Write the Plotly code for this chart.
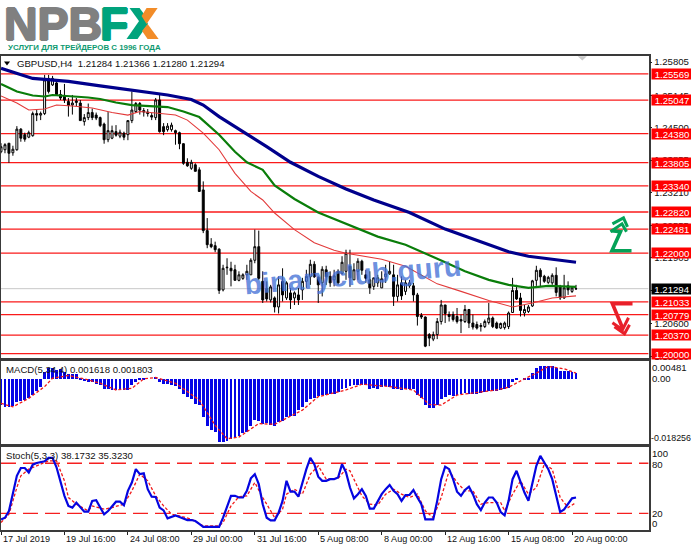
import plotly.graph_objects as go

W, H = 691, 549

# ---------- data (prices are stored as points above 1.2000) ----------
base_price = 1.2
opens_pts = [402,406,419,400,406,447,436,431,434,478,
475,478,548,535,539,516,513,502,495,500,
499,462,470,480,475,470,457,426,429,442,
433,439,436,464,482,498,484,481,474,470,
505,452,446,446,444,440,418,381,369,376,
366,326,245,218,215,208,127,171,170,167,
146,150,157,157,186,213,144,130,107,111,
93,144,111,121,111,117,127,144,153,178,
152,141,167,154,147,164,160,164,174,147,
164,184,157,147,134,141,131,153,159,157,
114,141,124,135,135,117,76,73,38,29,
38,64,97,78,78,74,68,64,88,61,
58,54,54,62,71,61,51,52,54,82,
126,111,81,84,95,146,166,154,142,141,
156,133,111,135,124,129]
highs_pts = [419,419,419,414,453,449,440,444,482,485,
482,555,555,553,541,525,537,509,515,509,
505,477,498,488,480,472,460,481,454,455,
446,442,464,522,501,501,489,487,479,509,
515,459,459,460,446,442,419,389,386,379,
371,343,270,230,223,210,177,190,183,177,
164,160,177,190,247,245,164,144,137,114,
154,170,144,131,124,131,151,167,187,184,
154,174,175,164,167,168,194,207,207,180,
190,187,167,164,151,157,164,177,184,177,
157,154,147,147,141,121,81,74,41,44,
71,107,97,84,84,91,78,97,89,78,
64,61,68,101,74,64,62,64,84,151,
137,121,97,97,147,175,170,157,155,160,
172,137,157,144,134,137]
lows_pts = [399,399,380,394,404,422,422,429,432,463,
465,475,518,533,515,505,499,472,476,492,
464,454,465,465,465,451,418,421,427,432,
429,425,425,459,479,476,472,472,465,465,
440,435,442,442,416,407,376,372,366,363,
322,240,210,210,202,119,124,157,134,146,
144,147,147,157,180,147,101,104,102,82,
80,104,107,89,97,97,107,131,137,151,
101,114,137,133,134,137,157,147,133,147,
147,157,141,119,127,133,131,141,157,95,
104,107,117,131,104,56,69,13,15,25,
29,58,61,64,64,60,41,61,51,48,
48,44,51,58,51,49,49,48,49,81,
107,74,74,81,93,135,134,141,139,137,
114,107,109,117,121,127]
closes_pts = [412,416,399,407,447,429,427,440,478,475,
478,545,522,548,516,509,505,494,499,503,
464,470,480,470,469,454,426,444,444,435,
441,431,464,485,498,485,481,478,471,505,
442,442,453,455,440,418,379,374,381,363,
323,245,217,213,207,126,170,172,165,146,
157,157,164,186,213,150,107,109,133,93,
137,117,141,107,121,107,144,154,178,153,
137,168,153,141,155,141,182,200,151,167,
184,166,150,131,151,151,149,159,164,114,
137,115,141,141,117,74,73,15,31,38,
64,97,80,74,68,64,65,88,61,53,
51,56,64,71,54,51,60,61,81,126,
109,86,88,93,145,166,153,144,152,156,
122,111,131,127,131,129.4]

ma_slow_idx = [0,8,11,17,25,33,42,48,51,55,59,62,67,73,80,87,94,103,112,121,128,133,139,145]
ma_slow_pts = [568,548,546,542,533,524,515,506,495,472,451,437,412,381,353,328,306,281,248,223,203,194,188,182]
ma_mid_idx = [0,4,8,11,13,17,22,25,29,33,38,42,46,50,55,59,62,66,69,74,80,87,91,95,102,107,112,117,123,128,133,138,145]
ma_mid_pts = [537,522,514,512,515,513,510,507,500,495,493,491,482,471,436,402,381,366,335,308,281,259,247,233,217,200,182,164,147,137,131,135,133]
ma_fast_idx = [0,4,7,11,14,18,23,28,32,35,39,44,47,51,55,59,63,66,69,74,79,84,87,96,102,106,110,116,123,129,134,139,145]
ma_fast_pts = [513,499,485,487,495,493,489,480,475,482,479,475,465,439,406,359,323,306,280,247,221,206,200,188,174,157,139,124,106,93,101,111,115]

level_values = [1.25569,1.25047,1.24380,1.23805,1.23340,1.22820,1.22481,1.22000,1.21033,1.20779,1.20370,1.20000]
last_price = 1.21294
price_ticks = [1.25805,1.25145,1.24500,1.23855,1.23210,1.22555,1.21905,1.21255,1.20600,1.19950]

macd_hist_e4 = [-78,-83,-83,-80,-68,-66,-61,-56,-48,-36,-23,
22,32,32,27,30,22,15,14,15,4,
-3,-8,-8,-13,-18,-28,-30,-32,-33,-33,
-33,-33,-18,-8,2,4,0,0,7,-8,
-13,-15,-16,-20,-28,-43,-53,-60,-73,-78,
-113,-138,-150,-158,-186,-186,-184,-178,-176,-170,
-160,-158,-138,-120,-123,-133,-131,-135,-138,-128,
-123,-113,-108,-108,-93,-83,-68,-58,-56,-50,
-48,-46,-43,-43,-38,-28,
-26,-20,-18,-16,-16,-16,-28,-26,-28,-23,-21,-23,-30,-30,-33,-28,-28,-30,-46,-56,-76,-85,-85,-76,-58,
-53,-48,-50,-46,-43,-40,-43,-43,-43,-40,-38,-36,-36,-35,-33,-30,-25,-8,4,0,2,2,17,32,39,40,40,40,34,24,24,24,20,17]
macd_sig_idx = [0,3,7,11,13,17,21,25,29,33,36,39,44,50,54,57,60,65,69,76,80,87,91,98,104,108,111,115,125,128,132,135,138,142,145]
macd_sig_e4 = [-73,-83,-58,-23,2,10,0,-13,-33,-28,0,4,-13,-63,-138,-178,-173,-133,-135,-93,-53,-33,-16,-23,-33,-76,-78,-48,-33,-25,0,17,37,30,17]

stoch_main = [12.8,14.8,22.8,43,65,74.4,74.4,69,78.4,80.4,81.2,82.4,86.5,86.5,75.2,59,41,28.9,26.9,32.9,
28,22,22,34.9,35.7,26.9,18.8,22.8,28.9,34,34,29.7,47,57,73,67,68,49,40,39.7,
26.9,23.6,14,15.6,17.6,15.6,14,12,12,10.8,7.5,3.9,3.9,3.9,3.9,3.9,14.8,26.9,41,41,
39,39,47,62,67,55,31,14.8,11.6,11.6,20.8,35,59,46,46,40,57,73,86.5,79,
64,59,59,61,61,63,79,69,51,38,43,49,41,25.7,25.7,35,43,49,54,47,
43,35,42,42,48,39,31,12.8,12.8,12.8,35,61,76,73,61,46,41,48,52,43,
31,24,33,39,39,33,21.6,17.6,35,61,71,57,45,35,55,77,89,81,73,61,
43,21.6,24.8,31,38,39]
stoch_sig_idx = [0,2,4,5,7,9,12,14,16,17,19,22,23,26,28,31,33,35,37,39,41,43,45,48,51,55,56,58,60,62,64,66,69,71,72,74,76,78,80,82,85,87,88,90,91,93,95,97,99,101,103,105,107,109,111,113,115,117,119,121,123,126,127,129,131,133,135,137,139,141,143,145]
stoch_sig = [9,19,51,65,73,77,83,83,59,39,31,23,29,25,27,31,47,67,59,41,29,19,17,13,5,5,9,29,40,41,57,39,15,25,43,49,43,67,77,61,62,73,71,51,41,31,30,43,49,43,39,43,23,15,39,71,57,47,47,31,33,33,23,43,59,43,51,79,73,39,27,33]
stoch_levels = [80, 20]

time_tick_idx = [0,16,32,48,64,80,96,112,128,144]
time_tick_labels = ["17 Jul 2019","19 Jul 16:00","24 Jul 08:00","29 Jul 00:00","31 Jul 16:00",
                    "5 Aug 08:00","8 Aug 00:00","12 Aug 16:00","15 Aug 08:00","20 Aug 00:00"]

assert all(len(a) == 146 for a in (opens_pts, highs_pts, lows_pts, closes_pts, macd_hist_e4, stoch_main))

to_price = lambda a: [base_price + v / 1e4 for v in a]
to_macd = lambda a: [v / 1e4 for v in a]
bars = list(range(146))

# ---------- layout helpers ----------
FONT = "Liberation Sans"
TS = 9.6
px = lambda x: x * 1.004 / W
py = lambda y: 1 - y * 1.0065 / H
X_RANGE = [0, 163.3]


def dom(top, bottom):
    return [py(bottom), py(top)]


fig = go.Figure()

# level lines
for lv in level_values:
    fig.add_shape(type="line", xref="x", yref="y", x0=X_RANGE[0], x1=X_RANGE[1], y0=lv, y1=lv,
                  line=dict(color="#fa1a1a", width=1.3), layer="below")
fig.add_shape(type="line", xref="x", yref="y", x0=X_RANGE[0], x1=X_RANGE[1], y0=last_price, y1=last_price,
              line=dict(color="#c8c8c8", width=1), layer="below")

# main panel
fig.add_trace(go.Candlestick(x=bars, open=to_price(opens_pts), high=to_price(highs_pts),
                             low=to_price(lows_pts), close=to_price(closes_pts),
                             increasing=dict(line=dict(color="#000000", width=1), fillcolor="#ffffff"),
                             decreasing=dict(line=dict(color="#000000", width=1), fillcolor="#000000"),
                             whiskerwidth=0, xaxis="x", yaxis="y", hoverinfo="skip"))
fig.add_trace(go.Scatter(x=ma_fast_idx, y=to_price(ma_fast_pts), mode="lines", xaxis="x", yaxis="y",
                         line=dict(color="#e23a3a", width=1.1)))
fig.add_trace(go.Scatter(x=ma_mid_idx, y=to_price(ma_mid_pts), mode="lines", xaxis="x", yaxis="y",
                         line=dict(color="#0a7d0a", width=2.2)))
fig.add_trace(go.Scatter(x=ma_slow_idx, y=to_price(ma_slow_pts), mode="lines", xaxis="x", yaxis="y",
                         line=dict(color="#00008c", width=3.2)))

# MACD panel
fig.add_trace(go.Bar(x=bars, y=to_macd(macd_hist_e4), marker=dict(color="#0505e6", line=dict(width=0)),
                     width=0.72, xaxis="x2", yaxis="y2"))
fig.add_trace(go.Scatter(x=macd_sig_idx, y=to_macd(macd_sig_e4), mode="lines", xaxis="x2", yaxis="y2",
                         line=dict(color="#f01818", width=1.3, dash="3px,2px")))

# Stochastic panel
for lv in stoch_levels:
    fig.add_shape(type="line", xref="x3", yref="y3", x0=X_RANGE[0], x1=X_RANGE[1], y0=lv, y1=lv,
                  line=dict(color="#f52020", width=1.4, dash="15px,7px"), layer="below")
fig.add_trace(go.Scatter(x=stoch_sig_idx, y=stoch_sig, mode="lines", xaxis="x3", yaxis="y3",
                         line=dict(color="#f01818", width=1.3, dash="3px,2px")))
fig.add_trace(go.Scatter(x=bars, y=stoch_main, mode="lines", xaxis="x3", yaxis="y3",
                         line=dict(color="#0505e0", width=2.2)))

annotations = []


def label(x, y, text, size=TS, color="#111111", anchor="left", weight=None, family=FONT, shadow=None, **kw):
    f = dict(family=family, size=size, color=color, weight=weight)
    if shadow:
        f["shadow"] = shadow
    annotations.append(dict(xref="paper", yref="paper", x=px(x), y=py(y), text=text, showarrow=False,
                            xanchor=anchor, yanchor="middle", align="left", font=f, borderpad=0, **kw))


# logo
GREY_HALO = "1px 0 0 #808080, -1px 0 0 #808080, 0 1px 0 #808080, 0 -1px 0 #808080"
TEAL_HALO = "1px 0 0 #00a37c, -1px 0 0 #00a37c, 0 1px 0 #00a37c, 0 -1px 0 #00a37c"
label(3, 24, "NPB", size=46.5, color="#808080", weight=900, shadow=GREY_HALO, height=42)
label(98.5, 24, "F", size=46.5, color="#00a37c", weight=900, shadow=TEAL_HALO, height=42)
label(7, 47.5, "УСЛУГИ ДЛЯ ТРЕЙДЕРОВ С 1996 ГОДА", size=7.9, color="#0e9a70", weight=700)

shapes_extra = []


def poly(points, fill=None, line=None, width=0):
    path = "M" + " L".join(f"{px(x):.5f},{py(y):.5f}" for x, y in points) + (" Z" if fill else "")
    shapes_extra.append(dict(type="path", xref="paper", yref="paper", path=path,
                             fillcolor=fill if fill else "rgba(0,0,0,0)",
                             line=dict(color=line if line else "rgba(0,0,0,0)", width=width)))


# logo X
poly([(126, 39), (137, 39), (147.5, 24), (142, 16)], fill="#00a37c")
poly([(129, 8), (139, 8), (147, 19), (142, 26)], fill="#00a37c")
poly([(146, 8), (157, 8), (146, 24), (141, 16)], fill="#f28c28")
poly([(147, 24), (158, 39), (147, 39), (141.5, 31)], fill="#f28c28")

# arrows
GR, RD = "#04a257", "#e8202a"
poly([(609, 231), (618, 232), (609.5, 251), (629, 251)], line=GR, width=3.6)
poly([(608, 232), (619.5, 224), (624, 232)], line=GR, width=3)
poly([(610, 224), (621, 218), (625, 227)], line=GR, width=3)
poly([(630, 304), (610, 304), (620, 328)], line=RD, width=3.6)
poly([(610, 323), (620, 330), (626, 318)], line=RD, width=3)
poly([(612, 327), (622, 334), (627, 325)], line=RD, width=3)

# small triangles
poly([(575.5, 56.3), (584.5, 56.3), (580, 60.6)], fill="#c8c8c8")
poly([(4, 61.5), (10, 61.5), (7, 65.5)], fill="#000000")

# panel captions
label(16, 63.5, "GBPUSD,H4&nbsp;&nbsp;1.21284 1.21366 1.21280 1.21294")
label(5, 370, "MACD(5,34,4) 0.001618 0.001803")
label(5, 455.5, "Stoch(5,3,3) 38.1732 35.3230")

# watermark
annotations.append(dict(xref="paper", yref="paper", x=px(352), y=py(275), text="binaryclub.guru", showarrow=False,
                        textangle=-5, font=dict(family="Liberation Sans", size=28.8, color="rgba(70,115,215,0.8)", weight=700)))

# right scales of the lower panels
label(648, 367.5, "0.00481")
label(648, 379, "0.00")
label(647.5, 438.5, "-0.018256", size=8.9)
label(648, 453.5, "100")
label(648, 464.5, "80")
label(648, 514, "20")
label(648, 524, "0")

# level tags
for lv in level_values:
    annotations.append(dict(xref="paper", yref="y", x=px(648), y=lv, text=f"{lv:.5f}", showarrow=False,
                            xanchor="left", yanchor="middle", width=40, height=10, bgcolor="#ff0000",
                            borderpad=0, font=dict(family=FONT, size=TS, color="#ffffff")))
annotations.append(dict(xref="paper", yref="y", x=px(648), y=last_price, text=f"{last_price:.5f}", showarrow=False,
                        xanchor="left", yanchor="middle", width=40, height=10, bgcolor="#000000",
                        borderpad=0, font=dict(family=FONT, size=TS, color="#ffffff")))

# time labels
for i, t in zip(time_tick_idx, time_tick_labels):
    annotations.append(dict(xref="x3", yref="paper", x=i, y=py(539.5), text=t, showarrow=False,
                            xanchor="left", yanchor="middle", xshift=0,
                            font=dict(family=FONT, size=9.1, color="#111111")))

hline = dict(showgrid=False, zeroline=False, showline=True, linecolor="#3a3a3a", linewidth=1.5, mirror=True)

fig.update_layout(
    width=W, height=H, autosize=False, margin=dict(l=0, r=0, t=0, b=0),
    paper_bgcolor="#ffffff", plot_bgcolor="#ffffff", showlegend=False,
    xaxis=dict(domain=[px(1), px(646)], range=X_RANGE, rangeslider=dict(visible=False), anchor="y",
               showticklabels=False, ticks="", **hline),
    yaxis=dict(domain=dom(56, 358), range=[1.1992, 1.25927], side="right", anchor="x",
               tickvals=price_ticks, ticktext=[f"{v:.5f}" for v in price_ticks], ticks="outside", ticklen=2,
               tickcolor="#222222", tickfont=dict(family=FONT, size=TS, color="#111111"), **hline),
    xaxis2=dict(domain=[px(1), px(646)], range=X_RANGE, anchor="y2", showticklabels=False, ticks="", **hline),
    yaxis2=dict(domain=dom(361, 444.5), range=[-0.0194, 0.0054], side="right", anchor="x2",
                showticklabels=False, ticks="", **hline),
    xaxis3=dict(domain=[px(1), px(646)], range=X_RANGE, anchor="y3", tickvals=time_tick_idx, ticktext=[""] * 10,
                ticks="outside", ticklen=3, tickcolor="#222222", **hline),
    yaxis3=dict(domain=dom(447, 530.5), range=[0, 100], side="right", anchor="x3",
                showticklabels=False, ticks="", **hline),
    annotations=annotations,
    shapes=list(fig.layout.shapes) + shapes_extra,
    bargap=0,
)

fig.write_html("out.html", config=dict(displayModeBar=False), include_plotlyjs=True,
               post_script="document.body.style.margin='0';document.body.style.overflow='hidden';")
